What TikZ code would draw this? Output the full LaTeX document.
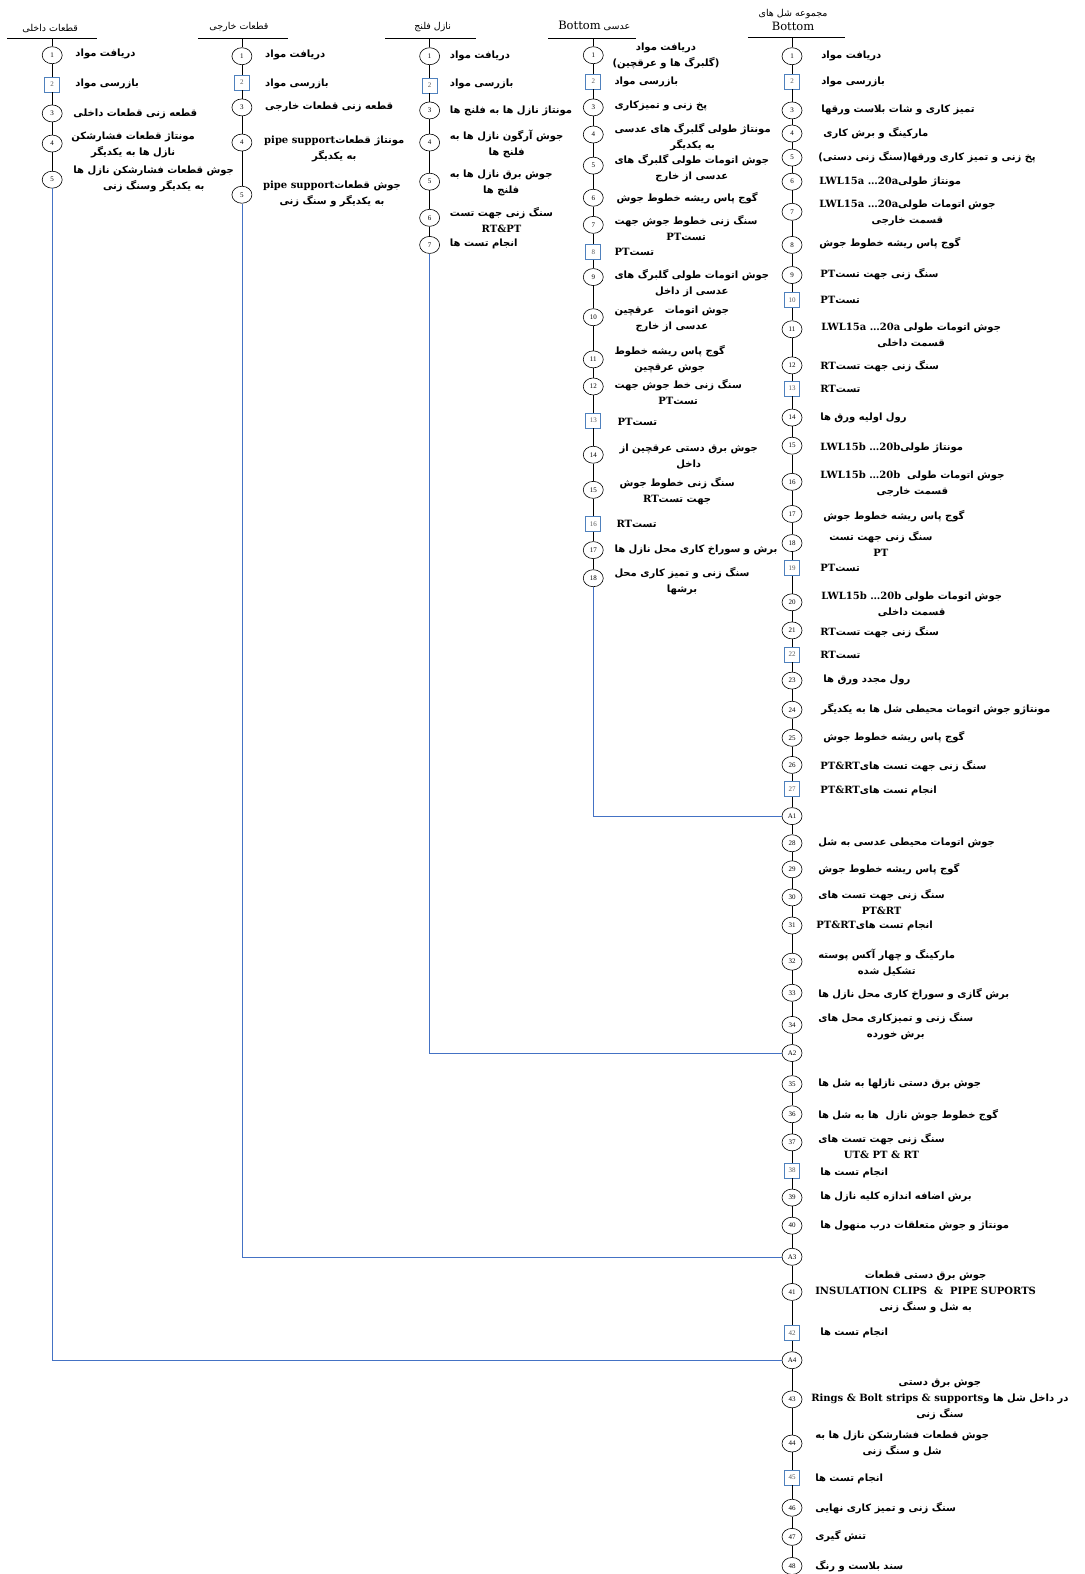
\documentclass[tikz,border=0pt]{standalone}
\usepackage{fontspec}
\usetikzlibrary{shapes.geometric}
\TeXXeTstate=1
\newfontfamily\farsi[Script=Arabic]{DejaVu Sans}
\newfontfamily\latinfont{Liberation Serif}
\newfontfamily\serifdv{DejaVu Serif}
\definecolor{insblue}{HTML}{4F81BD}
\definecolor{joinblue}{HTML}{4472C4}
\newcommand{\fa}[1]{\beginR #1\endR}
\newcommand{\en}[1]{\beginL{\serifdv\bfseries #1}\endL}
\newcommand{\opnode}[4]{\node[operation] (#1) at ( #2 , #3 ) {#4};}
\newcommand{\inspnode}[4]{\node[inspection] (#1) at ( #2 , #3 ) {#4};}
\newcommand{\stepnote}[4]{\node[steptext] (#1) at ( #2 , #3 ) {#4};}
\tikzset{
  operation/.style={ellipse, draw, line width=0.6pt, fill=white, minimum width=20pt, minimum height=17pt, inner sep=0pt, font=\latinfont\fontsize{7}{8}\selectfont},
  inspection/.style={rectangle, draw=insblue, line width=0.6pt, fill=white, minimum size=15pt, inner sep=0pt, text=black!65, font=\latinfont\fontsize{7}{8}\selectfont},
  steptext/.style={anchor=west, align=center, inner sep=0pt, font=\farsi\bfseries\fontsize{10}{16}\selectfont},
  header/.style={inner sep=0pt, align=center, font=\farsi\fontsize{9.5}{14}\selectfont},
  flowline/.style={draw, line width=0.6pt},
  joinline/.style={draw=joinblue, line width=0.6pt},
}

\begin{document}
\begin{tikzpicture}[x=1.0037pt, y=-1.0037pt]
        \useasboundingbox (0,0) rectangle (1080,1568);

        % headers
        \node[header] (h1) at (50,28) {\fa{قطعات داخلی}};
        \node[header] (h2) at (238,27) {\fa{قطعات خارجی}};
        \node[header] (h3) at (431,27) {\fa{نازل فلنج}};
        \node[header] (h4) at (592,26) {\fa{عدسی \beginL{\serifdv\fontsize{11.5}{13}\selectfont Bottom}\endL}};
        \node[header] (h5) at (790,20) {\fa{مجموعه شل های}\\{\serifdv\fontsize{11.5}{13}\selectfont Bottom}};
        \draw (7,38) -- (97,38);
        \draw (197,38) -- (287,38);
        \draw (384,38) -- (474,38);
        \draw (546,38) -- (634,38);
        \draw (745,37) -- (842,37);
        \coordinate (t1) at (52,38);
        \coordinate (t2) at (241,38);
        \coordinate (t3) at (428,38);
        \coordinate (t4) at (591,38);
        \coordinate (t5) at (789,37);

        % column 1
        \opnode{e1-1}{52}{55}{1}
        \inspnode{e1-2}{52}{84}{2}
        \opnode{e1-3}{52}{113}{3}
        \opnode{e1-4}{52}{143}{4}
        \opnode{e1-5}{52}{179}{5}
        \stepnote{n1-1}{75}{54}{\fa{دریافت مواد}}
        \stepnote{n1-2}{75}{84}{\fa{بازرسی مواد}}
        \stepnote{n1-3}{73}{113}{\fa{قطعه زنی قطعات داخلی}}
        \stepnote{n1-4}{71}{144}{\fa{مونتاژ قطعات فشارشکن}\\\fa{نازل ها به یکدیگر}}
        \stepnote{n1-5}{73}{178}{\fa{جوش قطعات فشارشکن نازل ها}\\\fa{به یکدیگر وسنگ زنی}}

        % column 2
        \opnode{e2-1}{241}{56}{1}
        \inspnode{e2-2}{241}{82}{2}
        \opnode{e2-3}{241}{107}{3}
        \opnode{e2-4}{241}{142}{4}
        \opnode{e2-5}{241}{194}{5}
        \stepnote{n2-1}{264}{55}{\fa{دریافت مواد}}
        \stepnote{n2-2}{264}{84}{\fa{بازرسی مواد}}
        \stepnote{n2-3}{264}{107}{\fa{قطعه زنی قطعات خارجی}}
        \stepnote{n2-4}{263}{148}{\fa{مونتاژ قطعات\en{pipe support}}\\\fa{به یکدیگر}}
        \stepnote{n2-5}{262}{193}{\fa{جوش قطعات\en{pipe support}}\\\fa{به یکدیگر و سنگ زنی}}

        % column 3
        \opnode{e3-1}{428}{56}{1}
        \inspnode{e3-2}{428}{85}{2}
        \opnode{e3-3}{428}{110}{3}
        \opnode{e3-4}{428}{142}{4}
        \opnode{e3-5}{428}{181}{5}
        \opnode{e3-6}{428}{217}{6}
        \opnode{e3-7}{428}{244}{7}
        \stepnote{n3-1}{448}{56}{\fa{دریافت مواد}}
        \stepnote{n3-2}{448}{84}{\fa{بازرسی مواد}}
        \stepnote{n3-3}{448}{110}{\fa{مونتاژ نازل ها به فلنج ها}}
        \stepnote{n3-4}{448}{143}{\fa{جوش آرگون نازل ها به}\\\fa{فلنج ها}}
        \stepnote{n3-5}{448}{182}{\fa{جوش برق نازل ها به}\\\fa{فلنج ها}}
        \stepnote{n3-6}{448}{219.5}{\fa{سنگ زنی جهت تست}\\\en{RT\&PT}}
        \stepnote{n3-7}{448}{243}{\fa{انجام تست ها}}

        % column 4
        \opnode{e4-1}{591}{55}{1}
        \inspnode{e4-2}{591}{81}{2}
        \opnode{e4-3}{591}{107}{3}
        \opnode{e4-4}{591}{134}{4}
        \opnode{e4-5}{591}{165}{5}
        \opnode{e4-6}{591}{197}{6}
        \opnode{e4-7}{591}{224}{7}
        \inspnode{e4-8}{591}{251}{8}
        \opnode{e4-9}{591}{276}{9}
        \opnode{e4-10}{591}{316}{10}
        \opnode{e4-11}{591}{358}{11}
        \opnode{e4-12}{591}{385}{12}
        \inspnode{e4-13}{591}{419}{13}
        \opnode{e4-14}{591}{453}{14}
        \opnode{e4-15}{591}{488}{15}
        \inspnode{e4-16}{591}{522}{16}
        \opnode{e4-17}{591}{548}{17}
        \opnode{e4-18}{591}{576}{18}
        \stepnote{n4-1}{610}{55.5}{\fa{دریافت مواد}\\\fa{\beginL(\endL گلبرگ ها و عرقچین\beginL)\endL}}
        \stepnote{n4-2}{612}{82}{\fa{بازرسی مواد}}
        \stepnote{n4-3}{612}{106}{\fa{پخ زنی و تمیزکاری}}
        \stepnote{n4-4}{612}{137}{\fa{مونتاژ طولی گلبرگ های عدسی}\\\fa{به یکدیگر}}
        \stepnote{n4-5}{612}{168}{\fa{جوش اتومات طولی گلبرگ های}\\\fa{عدسی از خارج}}
        \stepnote{n4-6}{614}{197}{\fa{گوج پاس ریشه خطوط جوش}}
        \stepnote{n4-7}{612}{227}{\fa{سنگ زنی خطوط جوش جهت}\\\fa{تست\en{PT}}}
        \stepnote{n4-8}{612}{251}{\fa{تست\en{PT}}}
        \stepnote{n4-9}{612}{282.5}{\fa{جوش اتومات طولی گلبرگ های}\\\fa{عدسی از داخل}}
        \stepnote{n4-10}{612}{317.5}{\fa{جوش اتومات\ \ \ عرقچین}\\\fa{عدسی از خارج}}
        \stepnote{n4-11}{612}{358}{\fa{گوج پاس ریشه خطوط}\\\fa{جوش عرقچین}}
        \stepnote{n4-12}{612}{391}{\fa{سنگ زنی خط جوش جهت}\\\fa{تست\en{PT}}}
        \stepnote{n4-13}{615}{420}{\fa{تست\en{PT}}}
        \stepnote{n4-14}{617}{454.5}{\fa{جوش برق دستی عرقچین از}\\\fa{داخل}}
        \stepnote{n4-15}{617}{489}{\fa{سنگ زنی خطوط جوش}\\\fa{جهت تست\en{RT}}}
        \stepnote{n4-16}{614}{522}{\fa{تست\en{RT}}}
        \stepnote{n4-17}{612}{548}{\fa{برش و سوراخ کاری محل نازل ها}}
        \stepnote{n4-18}{612}{578.5}{\fa{سنگ زنی و تمیز کاری محل}\\\fa{برشها}}

        % column 5
        \opnode{e5-1}{789}{56}{1}
        \inspnode{e5-2}{789}{81}{2}
        \opnode{e5-3}{789}{110}{3}
        \opnode{e5-4}{789}{133}{4}
        \opnode{e5-5}{789}{157}{5}
        \opnode{e5-6}{789}{181}{6}
        \opnode{e5-7}{789}{211}{7}
        \opnode{e5-8}{789}{244}{8}
        \opnode{e5-9}{789}{274}{9}
        \inspnode{e5-10}{789}{299}{10}
        \opnode{e5-11}{789}{328}{11}
        \opnode{e5-12}{789}{364}{12}
        \inspnode{e5-13}{789}{387}{13}
        \opnode{e5-14}{789}{416}{14}
        \opnode{e5-15}{789}{444}{15}
        \opnode{e5-16}{789}{480}{16}
        \opnode{e5-17}{789}{512}{17}
        \opnode{e5-18}{789}{541}{18}
        \inspnode{e5-19}{789}{566}{19}
        \opnode{e5-20}{789}{600}{20}
        \opnode{e5-21}{789}{628}{21}
        \inspnode{e5-22}{789}{652}{22}
        \opnode{e5-23}{789}{678}{23}
        \opnode{e5-24}{789}{707}{24}
        \opnode{e5-25}{789}{735}{25}
        \opnode{e5-26}{789}{762}{26}
        \inspnode{e5-27}{789}{786}{27}
        \opnode{A1}{789}{813}{A1}
        \opnode{e5-28}{789}{840}{28}
        \opnode{e5-29}{789}{866}{29}
        \opnode{e5-30}{789}{894}{30}
        \opnode{e5-31}{789}{922}{31}
        \opnode{e5-32}{789}{958}{32}
        \opnode{e5-33}{789}{989}{33}
        \opnode{e5-34}{789}{1021}{34}
        \opnode{A2}{789}{1049}{A2}
        \opnode{e5-35}{789}{1080}{35}
        \opnode{e5-36}{789}{1110}{36}
        \opnode{e5-37}{789}{1138}{37}
        \inspnode{e5-38}{789}{1166}{38}
        \opnode{e5-39}{789}{1193}{39}
        \opnode{e5-40}{789}{1221}{40}
        \opnode{A3}{789}{1252}{A3}
        \opnode{e5-41}{789}{1287}{41}
        \inspnode{e5-42}{789}{1328}{42}
        \opnode{A4}{789}{1355}{A4}
        \opnode{e5-43}{789}{1394}{43}
        \opnode{e5-44}{789}{1438}{44}
        \inspnode{e5-45}{789}{1472}{45}
        \opnode{e5-46}{789}{1502}{46}
        \opnode{e5-47}{789}{1531}{47}
        \opnode{e5-48}{789}{1560}{48}

        \stepnote{n5-1}{818}{56}{\fa{دریافت مواد}}
        \stepnote{n5-2}{818}{82}{\fa{بازرسی مواد}}
        \stepnote{n5-3}{818}{110}{\fa{تمیز کاری و شات بلاست ورقها}}
        \stepnote{n5-4}{820}{133}{\fa{مارکینگ و برش کاری}}
        \stepnote{n5-5}{815}{157}{\fa{پخ زنی و تمیز کاری ورقها\beginL(\endL سنگ زنی دستی\beginL)\endL}}
        \stepnote{n5-6}{816}{181}{\fa{مونتاژ طولی\en{LWL15a …20a}}}
        \stepnote{n5-7}{816}{212.5}{\fa{جوش اتومات طولی\en{LWL15a …20a}}\\\fa{قسمت خارجی}}
        \stepnote{n5-8}{816}{242}{\fa{گوج پاس ریشه خطوط جوش}}
        \stepnote{n5-9}{817}{273}{\fa{سنگ زنی جهت تست\en{PT}}}
        \stepnote{n5-10}{817}{299}{\fa{تست\en{PT}}}
        \stepnote{n5-11}{818}{334}{\fa{جوش اتومات طولی \en{LWL15a …20a}}\\\fa{قسمت داخلی}}
        \stepnote{n5-12}{817}{365}{\fa{سنگ زنی جهت تست\en{RT}}}
        \stepnote{n5-13}{817}{387}{\fa{تست\en{RT}}}
        \stepnote{n5-14}{817}{416}{\fa{رول اولیه ورق ها}}
        \stepnote{n5-15}{817}{446}{\fa{مونتاژ طولی\en{LWL15b …20b}}}
        \stepnote{n5-16}{817}{482.5}{\fa{جوش اتومات طولی\ \ \en{LWL15b …20b}}\\\fa{قسمت خارجی}}
        \stepnote{n5-17}{820}{514}{\fa{گوج پاس ریشه خطوط جوش}}
        \stepnote{n5-18}{826}{542}{\fa{سنگ زنی جهت تست}\\\en{PT}}
        \stepnote{n5-19}{817}{566}{\fa{تست\en{PT}}}
        \stepnote{n5-20}{818}{602}{\fa{جوش اتومات طولی \en{LWL15b …20b}}\\\fa{قسمت داخلی}}
        \stepnote{n5-21}{817}{630}{\fa{سنگ زنی جهت تست\en{RT}}}
        \stepnote{n5-22}{817}{652}{\fa{تست\en{RT}}}
        \stepnote{n5-23}{820}{677}{\fa{رول مجدد ورق ها}}
        \stepnote{n5-24}{818}{706}{\fa{مونتاژو جوش اتومات محیطی شل ها به یکدیگر}}
        \stepnote{n5-25}{820}{734}{\fa{گوج پاس ریشه خطوط جوش}}
        \stepnote{n5-26}{817}{763}{\fa{سنگ زنی جهت تست های\en{PT\&RT}}}
        \stepnote{n5-27}{817}{788}{\fa{انجام تست های\en{PT\&RT}}}
        \stepnote{n5-28}{815}{840}{\fa{جوش اتومات محیطی عدسی به شل}}
        \stepnote{n5-29}{815}{866}{\fa{گوج پاس ریشه خطوط جوش}}
        \stepnote{n5-30}{815}{899}{\fa{سنگ زنی جهت تست های}\\\en{PT\&RT}}
        \stepnote{n5-31}{813}{922}{\fa{انجام تست های\en{PT\&RT}}}
        \stepnote{n5-32}{815}{959}{\fa{مارکینگ و چهار آکس پوسته}\\\fa{تشکیل شده}}
        \stepnote{n5-33}{815}{990}{\fa{برش گازی و سوراخ کاری محل نازل ها}}
        \stepnote{n5-34}{815}{1022}{\fa{سنگ زنی و تمیزکاری محل های}\\\fa{برش خورده}}
        \stepnote{n5-35}{815}{1080}{\fa{جوش برق دستی نازلها به شل ها}}
        \stepnote{n5-36}{815}{1111}{\fa{گوج خطوط جوش نازل\ \ ها به شل ها}}
        \stepnote{n5-37}{815}{1142}{\fa{سنگ زنی جهت تست های}\\\en{UT\& PT \& RT}}
        \stepnote{n5-38}{817}{1168}{\fa{انجام تست ها}}
        \stepnote{n5-39}{817}{1192}{\fa{برش اضافه اندازه کلیه نازل ها}}
        \stepnote{n5-40}{817}{1221}{\fa{مونتاژ و جوش متعلقات درب منهول ها}}
        \stepnote{n5-41}{812}{1287}{\fa{جوش برق دستی قطعات}\\\en{INSULATION CLIPS\ \ \&\ \ PIPE SUPORTS}\\\fa{به شل و سنگ زنی}}
        \stepnote{n5-42}{817}{1328}{\fa{انجام تست ها}}
        \stepnote{n5-43}{808}{1394}{\fa{جوش برق دستی}\\\fa{در داخل شل ها و\en{Rings \& Bolt strips \& supports}}\\\fa{سنگ زنی}}
        \stepnote{n5-44}{812}{1438.5}{\fa{جوش قطعات فشارشکن نازل ها به}\\\fa{شل و سنگ زنی}}
        \stepnote{n5-45}{812}{1473}{\fa{انجام تست ها}}
        \stepnote{n5-46}{812}{1502}{\fa{سنگ زنی و تمیز کاری نهایی}}
        \stepnote{n5-47}{812}{1530}{\fa{تنش گیری}}
        \stepnote{n5-48}{812}{1560}{\fa{سند بلاست و رنگ}}

        % connectors
        \draw[flowline] (t1) -- (e1-1) -- (e1-2) -- (e1-3) -- (e1-4) -- (e1-5);
        \draw[flowline] (t2) -- (e2-1) -- (e2-2) -- (e2-3) -- (e2-4) -- (e2-5);
        \draw[flowline] (t3) -- (e3-1) -- (e3-2) -- (e3-3) -- (e3-4) -- (e3-5) -- (e3-6) -- (e3-7);
        \draw[flowline] (t4) -- (e4-1) -- (e4-2) -- (e4-3) -- (e4-4) -- (e4-5) -- (e4-6) -- (e4-7) -- (e4-8) -- (e4-9)
            -- (e4-10) -- (e4-11) -- (e4-12) -- (e4-13) -- (e4-14) -- (e4-15) -- (e4-16) -- (e4-17) -- (e4-18);
        \draw[flowline] (t5) -- (e5-1) -- (e5-2) -- (e5-3) -- (e5-4) -- (e5-5) -- (e5-6) -- (e5-7) -- (e5-8) -- (e5-9)
            -- (e5-10) -- (e5-11) -- (e5-12) -- (e5-13) -- (e5-14) -- (e5-15) -- (e5-16) -- (e5-17) -- (e5-18)
            -- (e5-19) -- (e5-20) -- (e5-21) -- (e5-22) -- (e5-23) -- (e5-24) -- (e5-25) -- (e5-26) -- (e5-27)
            -- (A1) -- (e5-28) -- (e5-29) -- (e5-30) -- (e5-31) -- (e5-32) -- (e5-33) -- (e5-34)
            -- (A2) -- (e5-35) -- (e5-36) -- (e5-37) -- (e5-38) -- (e5-39) -- (e5-40)
            -- (A3) -- (e5-41) -- (e5-42) -- (A4) -- (e5-43) -- (e5-44) -- (e5-45) -- (e5-46) -- (e5-47) -- (e5-48);
        \draw[joinline] (e4-18) |- (A1);
        \draw[joinline] (e3-7) |- (A2);
        \draw[joinline] (e2-5) |- (A3);
        \draw[joinline] (e1-5) |- (A4);
\end{tikzpicture}
\end{document}
